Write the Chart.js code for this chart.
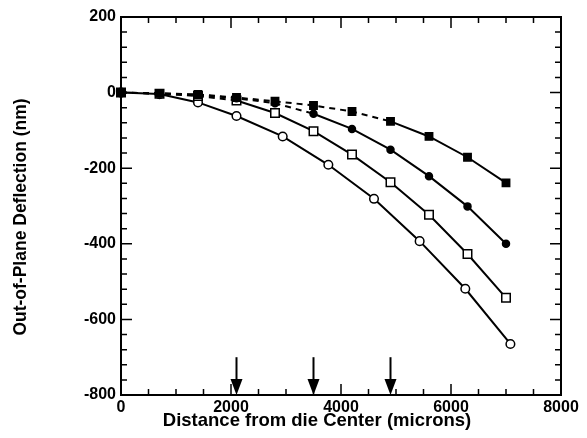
<!DOCTYPE html>
<html>
<head>
<meta charset="utf-8">
<script src="https://cdn.jsdelivr.net/npm/chart.js@4.4.1/dist/chart.umd.min.js"></script>
<style>
  html, body { margin: 0; padding: 0; background: #fff; }
  #wrap { width: 587px; height: 438px; }
</style>
</head>
<body>
<div id="wrap"><canvas id="deflChart" width="587" height="438"></canvas></div>
<script>
// distances (microns) and deflections (nm)
const distance = [0, 700, 1400, 2100, 2800, 3500, 4200, 4900, 5600, 6300, 7000];
const filledSquare = [0, -2, -5, -13, -23, -34, -50, -76, -116, -171, -239];
const filledCircle = [0, -2, -6, -15, -28, -56, -96, -151, -221, -301, -400];
const openSquare = [0, -3, -9, -21, -54, -102, -164, -237, -323, -427, -543];
const openCircleDist = [0, 700, 1400, 2100, 2940, 3770, 4600, 5430, 6260, 7080];
const openCircle = [0, -4, -26, -62, -116, -191, -281, -393, -519, -665];

// arrows under the x axis (where each curve turns solid)
const arrowX = [2100, 3500, 4900];
const arrowTop = -700;

const xTicks = { min: 0, max: 8000, major: 2000, minor: 500 };
const yTicks = { min: -800, max: 200, major: 200, minor: 40 };

const xTitle = 'Distance from die Center (microns)';
const yTitle = 'Out-of-Plane Deflection (nm)';

const FONT = '"Liberation Sans", Arial, Helvetica, sans-serif';
Chart.defaults.font.family = FONT;
Chart.defaults.font.weight = 'bold';
Chart.defaults.font.size = 16;
Chart.defaults.color = '#000';

const toPoints = (xs, ys) => ys.map((v, i) => ({ x: xs[i], y: v }));
const dashedUntil = cut => ({
  borderDash: ctx => (ctx.p1.parsed.x <= cut ? [6, 5] : undefined)
});

function series(data, style, radius, fill, cut) {
  return {
    data: data,
    showLine: true,
    borderColor: '#000',
    borderWidth: 2,
    pointStyle: style,
    pointRadius: radius,
    pointBackgroundColor: fill,
    pointBorderColor: '#000',
    pointBorderWidth: 1.5,
    clip: false,
    segment: cut ? dashedUntil(cut) : undefined
  };
}

// frame, inward ticks on all four sides, arrows and axis titles
const axisDecor = {
  id: 'axisDecor',
  beforeDatasetsDraw(chart) {
    const { ctx, chartArea: a, scales: { x, y } } = chart;
    ctx.save();
    ctx.strokeStyle = '#000';
    ctx.lineWidth = 2;
    ctx.strokeRect(a.left, a.top, a.right - a.left, a.bottom - a.top);
    ctx.lineWidth = 1.5;
    ctx.beginPath();
    x.ticks.forEach(t => {
      const px = x.getPixelForValue(t.value);
      const len = t.value % xTicks.major === 0 ? 11 : 6;
      ctx.moveTo(px, a.bottom); ctx.lineTo(px, a.bottom - len);
      ctx.moveTo(px, a.top); ctx.lineTo(px, a.top + len);
    });
    y.ticks.forEach(t => {
      const py = y.getPixelForValue(t.value);
      const len = t.value % yTicks.major === 0 ? 11 : 6;
      ctx.moveTo(a.left, py); ctx.lineTo(a.left + len, py);
      ctx.moveTo(a.right, py); ctx.lineTo(a.right - len, py);
    });
    ctx.stroke();
    ctx.restore();
  },
  afterDatasetsDraw(chart) {
    const { ctx, scales: { x, y } } = chart;
    ctx.save();
    ctx.fillStyle = '#000';
    ctx.strokeStyle = '#000';
    ctx.lineWidth = 2;
    arrowX.forEach(v => {
      const px = x.getPixelForValue(v);
      const top = y.getPixelForValue(arrowTop);
      const tip = y.getPixelForValue(yTicks.min);
      ctx.beginPath();
      ctx.moveTo(px, top); ctx.lineTo(px, tip - 12);
      ctx.stroke();
      ctx.beginPath();
      ctx.moveTo(px - 6, tip - 16);
      ctx.lineTo(px + 6, tip - 16);
      ctx.lineTo(px, tip);
      ctx.closePath();
      ctx.fill();
    });
    ctx.restore();
  },
  afterDraw(chart) {
    const { ctx } = chart;
    ctx.save();
    ctx.fillStyle = '#000';
    ctx.textAlign = 'center';
    ctx.textBaseline = 'middle';
    ctx.font = 'bold 18.5px ' + FONT;
    ctx.fillText(xTitle, 317, 421);
    ctx.translate(21, 217);
    ctx.rotate(-Math.PI / 2);
    ctx.font = 'bold 17.5px ' + FONT;
    ctx.fillText(yTitle, 0, 0);
    ctx.restore();
  }
};

new Chart(document.getElementById('deflChart'), {
  type: 'scatter',
  data: {
    datasets: [
      series(toPoints(distance, filledSquare), 'rect', 5.2, '#000', arrowX[2]),
      series(toPoints(distance, filledCircle), 'circle', 3.5, '#000', arrowX[1]),
      series(toPoints(distance, openSquare), 'rect', 6, '#fff', arrowX[0]),
      series(toPoints(openCircleDist, openCircle), 'circle', 4.3, '#fff', null)
    ]
  },
  options: {
    responsive: false,
    animation: false,
    layout: { padding: { left: 0, right: 26, top: 17, bottom: 0 } },
    plugins: { legend: { display: false }, tooltip: { enabled: false } },
    scales: {
      x: {
        type: 'linear',
        min: xTicks.min,
        max: xTicks.max,
        grid: { display: false, drawTicks: false },
        border: { display: false },
        ticks: {
          stepSize: xTicks.minor,
          autoSkip: false,
          maxRotation: 0,
          padding: 3,
          callback: v => (v % xTicks.major === 0 ? String(v) : '')
        },
        afterFit: s => { s.height = 43; }
      },
      y: {
        min: yTicks.min,
        max: yTicks.max,
        grid: { display: false, drawTicks: false },
        border: { display: false },
        ticks: {
          stepSize: yTicks.minor,
          autoSkip: false,
          padding: 5,
          callback: v => (v % yTicks.major === 0 ? String(v) : '')
        },
        afterFit: s => { s.width = 121; }
      }
    }
  },
  plugins: [axisDecor]
});
</script>
</body>
</html>
